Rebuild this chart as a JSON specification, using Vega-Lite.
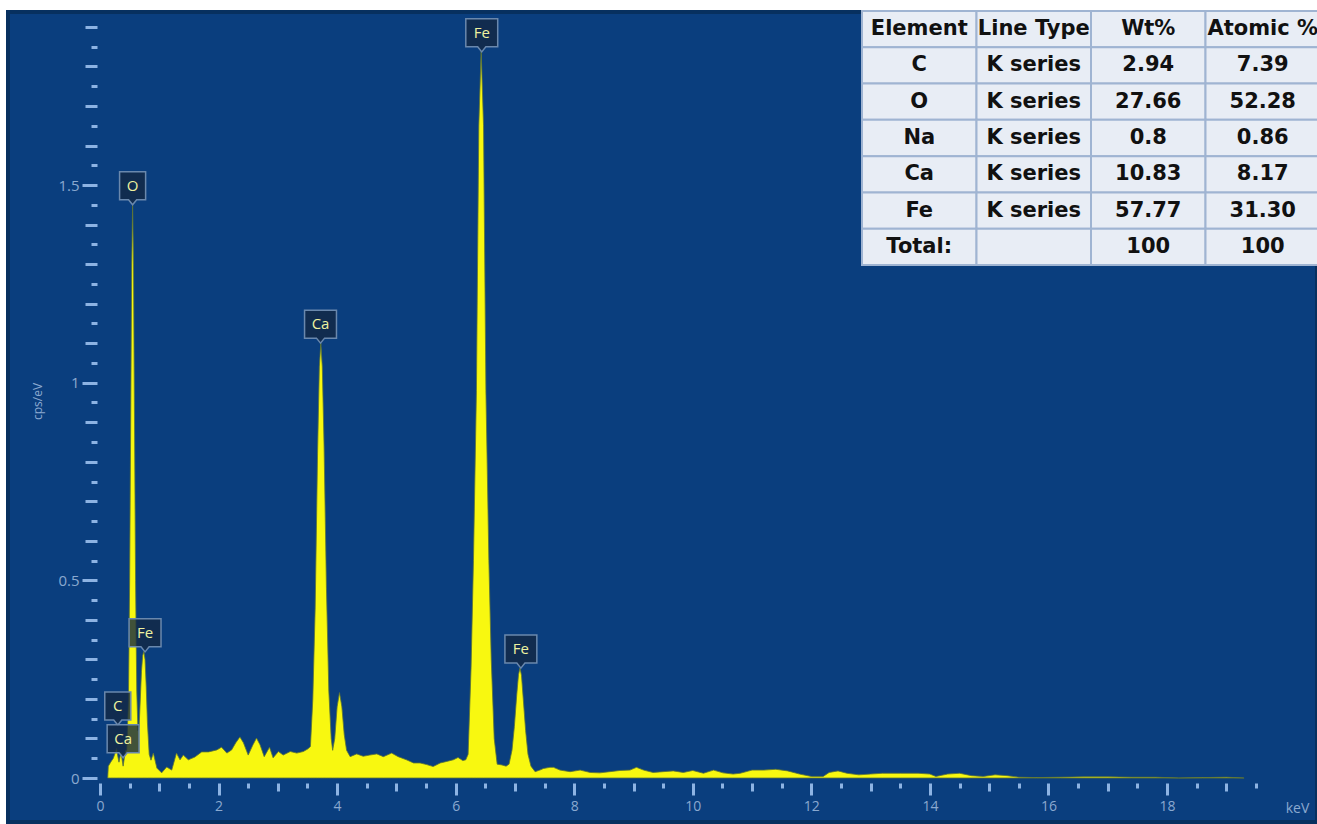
{
  "$schema": "https://vega.github.io/schema/vega-lite/v6.json",
  "width": 1309,
  "height": 810,
  "autosize": {"type": "none"},
  "padding": {"left": 8, "top": 12, "right": 0, "bottom": 2},
  "background": "white",
  "config": {
    "view": {"fill": "#0a3e7e", "stroke": "#07305f", "strokeWidth": 4},
    "axis": {"grid": false, "domain": false, "tickColor": "#8db3e3", "tickWidth": 3, "labelColor": "#8aa9d0", "labelFont": "Open Sans", "labelFontSize": 14, "titleColor": "#8aa9d0", "titleFont": "Open Sans", "titleFontWeight": "normal"}
  },
  "datasets": {
    "spectrum": [
      {"e": 0.13, "c": 0.0}, {"e": 0.14, "c": 0.03}, {"e": 0.18, "c": 0.04}, {"e": 0.225, "c": 0.05}, {"e": 0.26, "c": 0.065}, {"e": 0.28, "c": 0.075}, {"e": 0.3, "c": 0.055}, {"e": 0.32, "c": 0.04}, {"e": 0.354, "c": 0.065}, {"e": 0.39, "c": 0.03}, {"e": 0.41, "c": 0.05}, {"e": 0.43, "c": 0.07},
      {"e": 0.45, "c": 0.07}, {"e": 0.48, "c": 0.2}, {"e": 0.5, "c": 0.5}, {"e": 0.52, "c": 0.95}, {"e": 0.535, "c": 1.3}, {"e": 0.55, "c": 1.45}, {"e": 0.565, "c": 1.3}, {"e": 0.58, "c": 0.95}, {"e": 0.6, "c": 0.5}, {"e": 0.62, "c": 0.22}, {"e": 0.64, "c": 0.12},
      {"e": 0.66, "c": 0.13}, {"e": 0.68, "c": 0.2}, {"e": 0.7, "c": 0.27}, {"e": 0.72, "c": 0.31}, {"e": 0.74, "c": 0.32}, {"e": 0.76, "c": 0.3}, {"e": 0.78, "c": 0.23}, {"e": 0.8, "c": 0.14}, {"e": 0.83, "c": 0.06}, {"e": 0.86, "c": 0.045},
      {"e": 0.9, "c": 0.063}, {"e": 0.96, "c": 0.025}, {"e": 1.04, "c": 0.013}, {"e": 1.125, "c": 0.028}, {"e": 1.21, "c": 0.02}, {"e": 1.29, "c": 0.063}, {"e": 1.35, "c": 0.046}, {"e": 1.405, "c": 0.058}, {"e": 1.49, "c": 0.046}, {"e": 1.6, "c": 0.053}, {"e": 1.715, "c": 0.066}, {"e": 1.83, "c": 0.066}, {"e": 1.97, "c": 0.071}, {"e": 2.05, "c": 0.078}, {"e": 2.14, "c": 0.063}, {"e": 2.22, "c": 0.071}, {"e": 2.29, "c": 0.089}, {"e": 2.36, "c": 0.104}, {"e": 2.42, "c": 0.089}, {"e": 2.5, "c": 0.058}, {"e": 2.58, "c": 0.084}, {"e": 2.64, "c": 0.101}, {"e": 2.7, "c": 0.084}, {"e": 2.77, "c": 0.054}, {"e": 2.86, "c": 0.078}, {"e": 2.92, "c": 0.051}, {"e": 3.01, "c": 0.067}, {"e": 3.09, "c": 0.058}, {"e": 3.21, "c": 0.067}, {"e": 3.32, "c": 0.063}, {"e": 3.43, "c": 0.067}, {"e": 3.51, "c": 0.074},
      {"e": 3.55, "c": 0.08}, {"e": 3.59, "c": 0.2}, {"e": 3.63, "c": 0.43}, {"e": 3.67, "c": 0.82}, {"e": 3.7, "c": 1.04}, {"e": 3.725, "c": 1.1}, {"e": 3.75, "c": 1.04}, {"e": 3.78, "c": 0.84}, {"e": 3.82, "c": 0.48}, {"e": 3.86, "c": 0.22}, {"e": 3.9, "c": 0.1}, {"e": 3.925, "c": 0.07},
      {"e": 3.96, "c": 0.1}, {"e": 4.0, "c": 0.18}, {"e": 4.04, "c": 0.216}, {"e": 4.08, "c": 0.18}, {"e": 4.12, "c": 0.11}, {"e": 4.16, "c": 0.07},
      {"e": 4.22, "c": 0.054}, {"e": 4.33, "c": 0.061}, {"e": 4.44, "c": 0.055}, {"e": 4.55, "c": 0.058}, {"e": 4.67, "c": 0.061}, {"e": 4.78, "c": 0.054}, {"e": 4.92, "c": 0.063}, {"e": 5.03, "c": 0.054}, {"e": 5.17, "c": 0.046}, {"e": 5.29, "c": 0.038}, {"e": 5.4, "c": 0.038}, {"e": 5.51, "c": 0.034}, {"e": 5.62, "c": 0.029}, {"e": 5.74, "c": 0.038}, {"e": 5.85, "c": 0.042}, {"e": 5.96, "c": 0.046}, {"e": 6.04, "c": 0.052}, {"e": 6.12, "c": 0.044}, {"e": 6.17, "c": 0.046},
      {"e": 6.21, "c": 0.06}, {"e": 6.26, "c": 0.28}, {"e": 6.3, "c": 0.55}, {"e": 6.35, "c": 0.98}, {"e": 6.39, "c": 1.65}, {"e": 6.43, "c": 1.84}, {"e": 6.47, "c": 1.65}, {"e": 6.51, "c": 0.98}, {"e": 6.56, "c": 0.55}, {"e": 6.6, "c": 0.3}, {"e": 6.65, "c": 0.1}, {"e": 6.7, "c": 0.035}, {"e": 6.78, "c": 0.033}, {"e": 6.85, "c": 0.03},
      {"e": 6.9, "c": 0.035}, {"e": 6.95, "c": 0.07}, {"e": 6.99, "c": 0.13}, {"e": 7.03, "c": 0.21}, {"e": 7.06, "c": 0.262}, {"e": 7.085, "c": 0.278}, {"e": 7.11, "c": 0.26}, {"e": 7.14, "c": 0.2}, {"e": 7.18, "c": 0.12}, {"e": 7.22, "c": 0.06}, {"e": 7.27, "c": 0.03},
      {"e": 7.34, "c": 0.016}, {"e": 7.42, "c": 0.02}, {"e": 7.48, "c": 0.024}, {"e": 7.59, "c": 0.027}, {"e": 7.65, "c": 0.027}, {"e": 7.76, "c": 0.02}, {"e": 7.93, "c": 0.016}, {"e": 8.1, "c": 0.02}, {"e": 8.27, "c": 0.014}, {"e": 8.43, "c": 0.013}, {"e": 8.6, "c": 0.016}, {"e": 8.77, "c": 0.019}, {"e": 8.94, "c": 0.02}, {"e": 9.05, "c": 0.027}, {"e": 9.17, "c": 0.02}, {"e": 9.33, "c": 0.014}, {"e": 9.5, "c": 0.016}, {"e": 9.67, "c": 0.018}, {"e": 9.84, "c": 0.014}, {"e": 10.0, "c": 0.019}, {"e": 10.18, "c": 0.012}, {"e": 10.35, "c": 0.02}, {"e": 10.51, "c": 0.013}, {"e": 10.68, "c": 0.01}, {"e": 10.8, "c": 0.012},
      {"e": 11.0, "c": 0.02}, {"e": 11.2, "c": 0.02}, {"e": 11.4, "c": 0.022}, {"e": 11.6, "c": 0.018}, {"e": 11.8, "c": 0.01}, {"e": 12.0, "c": 0.004}, {"e": 12.2, "c": 0.004}, {"e": 12.3, "c": 0.014}, {"e": 12.45, "c": 0.018}, {"e": 12.6, "c": 0.012}, {"e": 12.8, "c": 0.008}, {"e": 13.0, "c": 0.01}, {"e": 13.2, "c": 0.012}, {"e": 13.5, "c": 0.012}, {"e": 13.8, "c": 0.012}, {"e": 14.0, "c": 0.01}, {"e": 14.1, "c": 0.004}, {"e": 14.3, "c": 0.01}, {"e": 14.5, "c": 0.012}, {"e": 14.7, "c": 0.006}, {"e": 14.9, "c": 0.004}, {"e": 15.1, "c": 0.008}, {"e": 15.3, "c": 0.006}, {"e": 15.5, "c": 0.002}, {"e": 15.8, "c": 0.001}, {"e": 16.2, "c": 0.002}, {"e": 16.6, "c": 0.003}, {"e": 17.0, "c": 0.003}, {"e": 17.4, "c": 0.002}, {"e": 17.8, "c": 0.002}, {"e": 18.2, "c": 0.0}, {"e": 18.6, "c": 0.001}, {"e": 19.0, "c": 0.002}, {"e": 19.3, "c": 0.0}
    ],
    "peaks": [
      {"el": "O", "e": 0.55, "c": 1.45},
      {"el": "Fe", "e": 6.44, "c": 1.837},
      {"el": "Ca", "e": 3.72, "c": 1.1},
      {"el": "Fe", "e": 7.1, "c": 0.278},
      {"el": "Fe", "e": 0.76, "c": 0.319},
      {"el": "C", "e": 0.3, "c": 0.134},
      {"el": "Ca", "e": 0.39, "c": 0.051}
    ],
    "table": [
      {"r": 0, "col": "Element", "t": "Element"}, {"r": 0, "col": "Line Type", "t": "Line Type"}, {"r": 0, "col": "Wt%", "t": "Wt%"}, {"r": 0, "col": "Atomic %", "t": "Atomic %"},
      {"r": 1, "col": "Element", "t": "C"}, {"r": 1, "col": "Line Type", "t": "K series"}, {"r": 1, "col": "Wt%", "t": "2.94"}, {"r": 1, "col": "Atomic %", "t": "7.39"},
      {"r": 2, "col": "Element", "t": "O"}, {"r": 2, "col": "Line Type", "t": "K series"}, {"r": 2, "col": "Wt%", "t": "27.66"}, {"r": 2, "col": "Atomic %", "t": "52.28"},
      {"r": 3, "col": "Element", "t": "Na"}, {"r": 3, "col": "Line Type", "t": "K series"}, {"r": 3, "col": "Wt%", "t": "0.8"}, {"r": 3, "col": "Atomic %", "t": "0.86"},
      {"r": 4, "col": "Element", "t": "Ca"}, {"r": 4, "col": "Line Type", "t": "K series"}, {"r": 4, "col": "Wt%", "t": "10.83"}, {"r": 4, "col": "Atomic %", "t": "8.17"},
      {"r": 5, "col": "Element", "t": "Fe"}, {"r": 5, "col": "Line Type", "t": "K series"}, {"r": 5, "col": "Wt%", "t": "57.77"}, {"r": 5, "col": "Atomic %", "t": "31.30"},
      {"r": 6, "col": "Element", "t": "Total:"}, {"r": 6, "col": "Line Type", "t": ""}, {"r": 6, "col": "Wt%", "t": "100"}, {"r": 6, "col": "Atomic %", "t": "100"}
    ]
  },
  "resolve": {"scale": {"x": "independent", "y": "independent"}, "axis": {"x": "independent", "y": "independent"}},
  "layer": [
    {
      "data": {"name": "spectrum"},
      "mark": {"type": "area", "fill": "#f8f810", "stroke": "#5d7436", "strokeWidth": 0.8, "interpolate": "linear"},
      "encoding": {
        "x": {"field": "e", "type": "quantitative", "scale": {"domain": [-1.552, 20.53], "nice": false, "zero": false},
          "axis": {"orient": "bottom", "offset": -39, "values": [0, 2, 4, 6, 8, 10, 12, 14, 16, 18], "tickSize": 12, "labelPadding": 4, "format": "d", "title": "keV", "titleX": 1289, "titleY": 25, "titleAlign": "center", "titleBaseline": "middle", "titleFontSize": 14}},
        "y": {"field": "c", "type": "quantitative", "scale": {"domain": [-0.1113, 1.9378], "nice": false, "zero": false},
          "axis": {"orient": "left", "offset": -89, "values": [0, 0.5, 1, 1.5], "tickSize": 15, "labelPadding": 3, "labelFontSize": 15, "format": "~g", "title": "cps/eV", "titleX": -60, "titleY": 389, "titleAngle": -90, "titleAlign": "center", "titleBaseline": "middle", "titleFontSize": 12}},
        "y2": {"datum": 0}
      }
    },
    {
      "data": {"name": "peaks"},
      "mark": {"type": "point", "filled": true, "fill": "#132843", "fillOpacity": 0.8, "stroke": "#6a88ad", "strokeWidth": 1.5, "opacity": 1, "size": 784},
      "encoding": {
        "x": {"field": "e", "type": "quantitative", "scale": {"domain": [-1.552, 20.53], "nice": false, "zero": false},
          "axis": {"orient": "bottom", "offset": -39, "values": [1, 3, 5, 7, 9, 11, 13, 15, 17, 19], "tickSize": 8, "labels": false, "title": null}},
        "y": {"field": "c", "type": "quantitative", "scale": {"domain": [-0.1113, 1.9378], "nice": false, "zero": false},
          "axis": {"orient": "left", "offset": -89, "values": [0.1, 0.2, 0.3, 0.4, 0.6, 0.7, 0.8, 0.9, 1.1, 1.2, 1.3, 1.4, 1.6, 1.7, 1.8, 1.9], "tickSize": 12, "labels": false, "title": null}},
        "shape": {"field": "el", "type": "nominal", "legend": null,
          "scale": {"domain": ["O", "C", "Fe", "Ca"], "range": ["M-0.93,-2.36H0.93V-0.36H0.29L0,0L-0.29,-0.36H-0.93Z", "M-0.93,-2.36H0.93V-0.36H0.29L0,0L-0.29,-0.36H-0.93Z", "M-1.14,-2.36H1.14V-0.36H0.29L0,0L-0.29,-0.36H-1.14Z", "M-1.14,-2.36H1.14V-0.36H0.29L0,0L-0.29,-0.36H-1.14Z"]}}
      }
    },
    {
      "data": {"name": "peaks"},
      "mark": {"type": "text", "dy": -19, "font": "Open Sans", "fontSize": 15, "color": "#eef2a0", "align": "center", "baseline": "middle"},
      "encoding": {
        "x": {"field": "e", "type": "quantitative", "scale": {"domain": [-1.552, 20.53], "nice": false, "zero": false},
          "axis": {"orient": "bottom", "offset": -39, "values": [0.5, 1.5, 2.5, 3.5, 4.5, 5.5, 6.5, 7.5, 8.5, 9.5, 10.5, 11.5, 12.5, 13.5, 14.5, 15.5, 16.5, 17.5, 18.5, 19.5], "tickSize": 5, "labels": false, "title": null}},
        "y": {"field": "c", "type": "quantitative", "scale": {"domain": [-0.1113, 1.9378], "nice": false, "zero": false},
          "axis": {"orient": "left", "offset": -89, "values": [0.05, 0.15, 0.25, 0.35, 0.45, 0.55, 0.65, 0.75, 0.85, 0.95, 1.05, 1.15, 1.25, 1.35, 1.45, 1.55, 1.65, 1.75, 1.85], "tickSize": 6, "labels": false, "title": null}},
        "text": {"field": "el"}
      }
    },
    {
      "data": {"name": "table"},
      "mark": {"type": "rect", "fill": "#e8edf5", "stroke": "#9fb4d2", "strokeWidth": 2},
      "encoding": {
        "x": {"field": "col", "type": "nominal", "axis": null, "scale": {"domain": ["Element", "Line Type", "Wt%", "Atomic %"], "range": [854, 1312], "paddingInner": 0, "paddingOuter": 0}},
        "y": {"field": "r", "type": "ordinal", "axis": null, "scale": {"domain": [0, 1, 2, 3, 4, 5, 6], "range": [-1, 253], "paddingInner": 0, "paddingOuter": 0}}
      }
    },
    {
      "data": {"name": "table"},
      "mark": {"type": "text", "font": "DejaVu Sans", "fontWeight": "bold", "fontSize": 21, "color": "#111111", "align": "center", "baseline": "middle"},
      "encoding": {
        "x": {"field": "col", "type": "nominal", "axis": null, "scale": {"domain": ["Element", "Line Type", "Wt%", "Atomic %"], "range": [854, 1312], "paddingInner": 0, "paddingOuter": 0}},
        "y": {"field": "r", "type": "ordinal", "axis": null, "scale": {"domain": [0, 1, 2, 3, 4, 5, 6], "range": [-1, 253], "paddingInner": 0, "paddingOuter": 0}},
        "text": {"field": "t"}
      }
    }
  ]
}
